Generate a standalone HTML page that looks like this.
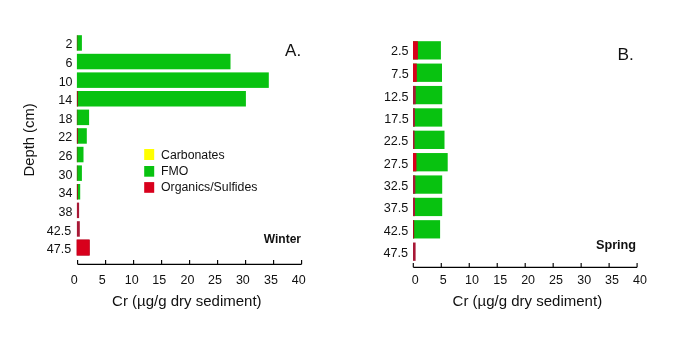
<!DOCTYPE html>
<html><head><meta charset="utf-8"><style>
html,body{margin:0;padding:0;background:#fff;}
svg{display:block;will-change:transform;}
text{font-family:"Liberation Sans", sans-serif;fill:#111;}
</style></head><body>
<svg width="685" height="363" viewBox="0 0 685 363">
<rect width="685" height="363" fill="#fff"/>
<rect x="76.90" y="35.20" width="5.00" height="15.50" fill="#08c210" />
<rect x="76.90" y="35.20" width="0.40" height="15.50" fill="#a0141c" />
<text x="72.53" y="48.32" font-size="12.5" text-anchor="end" font-weight="normal" >2</text>
<rect x="76.90" y="53.80" width="153.60" height="15.50" fill="#08c210" />
<text x="72.57" y="67.28" font-size="12.5" text-anchor="end" font-weight="normal" >6</text>
<rect x="76.90" y="72.40" width="191.90" height="15.50" fill="#08c210" />
<text x="72.57" y="86.23" font-size="12.5" text-anchor="end" font-weight="normal" >10</text>
<rect x="76.90" y="91.00" width="169.00" height="15.50" fill="#08c210" />
<rect x="76.90" y="91.00" width="1.00" height="15.50" fill="#a0141c" />
<text x="72.15" y="103.86" font-size="12.5" text-anchor="end" font-weight="normal" >14</text>
<rect x="76.90" y="109.60" width="12.20" height="15.50" fill="#08c210" />
<rect x="76.90" y="109.60" width="0.40" height="15.50" fill="#a0141c" />
<text x="72.50" y="123.05" font-size="12.5" text-anchor="end" font-weight="normal" >18</text>
<rect x="76.90" y="128.20" width="9.90" height="15.50" fill="#08c210" />
<rect x="76.90" y="128.20" width="1.00" height="15.50" fill="#a0141c" />
<text x="72.19" y="140.62" font-size="12.5" text-anchor="end" font-weight="normal" >22</text>
<rect x="76.90" y="146.80" width="6.60" height="15.50" fill="#08c210" />
<rect x="76.90" y="146.80" width="0.40" height="15.50" fill="#a0141c" />
<text x="72.50" y="160.25" font-size="12.5" text-anchor="end" font-weight="normal" >26</text>
<rect x="76.90" y="165.40" width="5.00" height="15.50" fill="#08c210" />
<rect x="76.90" y="165.40" width="0.40" height="15.50" fill="#a0141c" />
<text x="72.50" y="178.85" font-size="12.5" text-anchor="end" font-weight="normal" >30</text>
<rect x="76.90" y="184.00" width="3.30" height="15.50" fill="#08c210" />
<rect x="76.90" y="184.00" width="1.00" height="15.50" fill="#a0141c" />
<text x="72.50" y="197.45" font-size="12.5" text-anchor="end" font-weight="normal" >34</text>
<rect x="76.90" y="202.60" width="2.20" height="15.50" fill="#a81836" />
<text x="72.50" y="216.05" font-size="12.5" text-anchor="end" font-weight="normal" >38</text>
<rect x="76.90" y="221.20" width="2.90" height="15.50" fill="#a81836" />
<text x="71.12" y="235.15" font-size="12.5" text-anchor="end" font-weight="normal" >42.5</text>
<rect x="76.90" y="239.80" width="12.70" height="15.50" fill="#d8001c" stroke="#b8001c" stroke-width="0.6"/>
<text x="71.12" y="252.96" font-size="12.5" text-anchor="end" font-weight="normal" >47.5</text>
<path d="M77.6 264.3H301.6" stroke="#000" stroke-width="1.15" fill="none"/>
<path d="M77.60 264.3V260.1" stroke="#000" stroke-width="1.15" fill="none"/>
<text x="74.23" y="283.88" font-size="12.5" text-anchor="middle" font-weight="normal" >0</text>
<path d="M105.60 264.3V260.1" stroke="#000" stroke-width="1.15" fill="none"/>
<text x="102.21" y="284.45" font-size="12.5" text-anchor="middle" font-weight="normal" >5</text>
<path d="M133.60 264.3V260.1" stroke="#000" stroke-width="1.15" fill="none"/>
<text x="131.74" y="284.43" font-size="12.5" text-anchor="middle" font-weight="normal" >10</text>
<path d="M161.60 264.3V260.1" stroke="#000" stroke-width="1.15" fill="none"/>
<text x="159.19" y="284.45" font-size="12.5" text-anchor="middle" font-weight="normal" >15</text>
<path d="M189.60 264.3V260.1" stroke="#000" stroke-width="1.15" fill="none"/>
<text x="187.53" y="284.39" font-size="12.5" text-anchor="middle" font-weight="normal" >20</text>
<path d="M217.60 264.3V260.1" stroke="#000" stroke-width="1.15" fill="none"/>
<text x="214.94" y="284.45" font-size="12.5" text-anchor="middle" font-weight="normal" >25</text>
<path d="M245.60 264.3V260.1" stroke="#000" stroke-width="1.15" fill="none"/>
<text x="242.85" y="284.43" font-size="12.5" text-anchor="middle" font-weight="normal" >30</text>
<path d="M273.60 264.3V260.1" stroke="#000" stroke-width="1.15" fill="none"/>
<text x="270.97" y="284.47" font-size="12.5" text-anchor="middle" font-weight="normal" >35</text>
<path d="M301.60 264.3V260.1" stroke="#000" stroke-width="1.15" fill="none"/>
<text x="298.82" y="283.86" font-size="12.5" text-anchor="middle" font-weight="normal" >40</text>
<text x="186.86" y="306.47" font-size="15" text-anchor="middle" font-weight="normal" >Cr (µg/g dry sediment)</text>
<text x="0.00" y="0.00" font-size="14.8" text-anchor="middle" font-weight="normal" transform="translate(34.2 139.9) rotate(-90)">Depth (cm)</text>
<text x="285.11" y="56.13" font-size="17" text-anchor="start" font-weight="normal" >A.</text>
<rect x="144.20" y="149.00" width="10.00" height="11.00" fill="#ffff00" />
<rect x="144.20" y="166.00" width="10.00" height="10.70" fill="#08c210" />
<rect x="144.20" y="182.10" width="10.00" height="10.70" fill="#d8001c" />
<text x="161.00" y="158.80" font-size="12.3" text-anchor="start" font-weight="normal" >Carbonates</text>
<text x="161.00" y="175.20" font-size="12.3" text-anchor="start" font-weight="normal" >FMO</text>
<text x="161.00" y="191.20" font-size="12.3" text-anchor="start" font-weight="normal" >Organics/Sulfides</text>
<text x="301.03" y="243.29" font-size="12" text-anchor="end" font-weight="bold" >Winter</text>
<rect x="413.00" y="41.20" width="27.90" height="18.30" fill="#08c210" />
<rect x="413.00" y="41.20" width="4.90" height="18.30" fill="#d8001c" />
<text x="408.62" y="55.45" font-size="12.6" text-anchor="end" font-weight="normal" >2.5</text>
<rect x="413.00" y="63.57" width="29.00" height="18.30" fill="#08c210" />
<rect x="413.00" y="63.57" width="3.80" height="18.30" fill="#d8001c" />
<text x="408.83" y="78.22" font-size="12.6" text-anchor="end" font-weight="normal" >7.5</text>
<rect x="413.00" y="85.94" width="29.20" height="18.30" fill="#08c210" />
<rect x="413.00" y="85.94" width="2.70" height="18.30" fill="#a81836" />
<text x="408.47" y="100.99" font-size="12.6" text-anchor="end" font-weight="normal" >12.5</text>
<rect x="413.00" y="108.31" width="29.20" height="18.30" fill="#08c210" />
<rect x="413.00" y="108.31" width="1.90" height="18.30" fill="#a81836" />
<text x="408.77" y="123.16" font-size="12.6" text-anchor="end" font-weight="normal" >17.5</text>
<rect x="413.00" y="130.68" width="31.50" height="18.30" fill="#08c210" />
<rect x="413.00" y="130.68" width="1.60" height="18.30" fill="#a81836" />
<text x="408.30" y="145.13" font-size="12.6" text-anchor="end" font-weight="normal" >22.5</text>
<rect x="413.00" y="153.05" width="34.70" height="18.30" fill="#08c210" />
<rect x="413.00" y="153.05" width="3.40" height="18.30" fill="#d8001c" />
<text x="408.30" y="167.50" font-size="12.6" text-anchor="end" font-weight="normal" >27.5</text>
<rect x="413.00" y="175.42" width="29.20" height="18.30" fill="#08c210" />
<rect x="413.00" y="175.42" width="2.30" height="18.30" fill="#a81836" />
<text x="408.30" y="189.87" font-size="12.6" text-anchor="end" font-weight="normal" >32.5</text>
<rect x="413.00" y="197.79" width="29.20" height="18.30" fill="#08c210" />
<rect x="413.00" y="197.79" width="2.00" height="18.30" fill="#a81836" />
<text x="408.30" y="212.24" font-size="12.6" text-anchor="end" font-weight="normal" >37.5</text>
<rect x="413.00" y="220.16" width="27.10" height="18.30" fill="#08c210" />
<rect x="413.00" y="220.16" width="1.20" height="18.30" fill="#a0141c" />
<text x="408.30" y="234.61" font-size="12.6" text-anchor="end" font-weight="normal" >42.5</text>
<rect x="413.00" y="242.53" width="2.60" height="18.30" fill="#a81836" />
<text x="408.12" y="256.78" font-size="12.6" text-anchor="end" font-weight="normal" >47.5</text>
<path d="M413.3 267.3H637.1" stroke="#000" stroke-width="1.15" fill="none"/>
<path d="M413.30 267.3V263.1" stroke="#000" stroke-width="1.15" fill="none"/>
<text x="415.23" y="284.38" font-size="12.5" text-anchor="middle" font-weight="normal" >0</text>
<path d="M441.28 267.3V263.1" stroke="#000" stroke-width="1.15" fill="none"/>
<text x="443.28" y="284.30" font-size="12.5" text-anchor="middle" font-weight="normal" >5</text>
<path d="M469.25 267.3V263.1" stroke="#000" stroke-width="1.15" fill="none"/>
<text x="471.92" y="284.27" font-size="12.5" text-anchor="middle" font-weight="normal" >10</text>
<path d="M497.23 267.3V263.1" stroke="#000" stroke-width="1.15" fill="none"/>
<text x="500.26" y="284.30" font-size="12.5" text-anchor="middle" font-weight="normal" >15</text>
<path d="M525.20 267.3V263.1" stroke="#000" stroke-width="1.15" fill="none"/>
<text x="528.08" y="284.26" font-size="12.5" text-anchor="middle" font-weight="normal" >20</text>
<path d="M553.17 267.3V263.1" stroke="#000" stroke-width="1.15" fill="none"/>
<text x="555.90" y="284.30" font-size="12.5" text-anchor="middle" font-weight="normal" >25</text>
<path d="M581.15 267.3V263.1" stroke="#000" stroke-width="1.15" fill="none"/>
<text x="584.28" y="284.25" font-size="12.5" text-anchor="middle" font-weight="normal" >30</text>
<path d="M609.12 267.3V263.1" stroke="#000" stroke-width="1.15" fill="none"/>
<text x="611.98" y="284.30" font-size="12.5" text-anchor="middle" font-weight="normal" >35</text>
<path d="M637.10 267.3V263.1" stroke="#000" stroke-width="1.15" fill="none"/>
<text x="639.94" y="284.36" font-size="12.5" text-anchor="middle" font-weight="normal" >40</text>
<text x="527.38" y="305.59" font-size="15" text-anchor="middle" font-weight="normal" >Cr (µg/g dry sediment)</text>
<text x="617.58" y="59.65" font-size="17.3" text-anchor="start" font-weight="normal" >B.</text>
<text x="636.11" y="248.59" font-size="12.7" text-anchor="end" font-weight="bold" >Spring</text>
</svg>
</body></html>
